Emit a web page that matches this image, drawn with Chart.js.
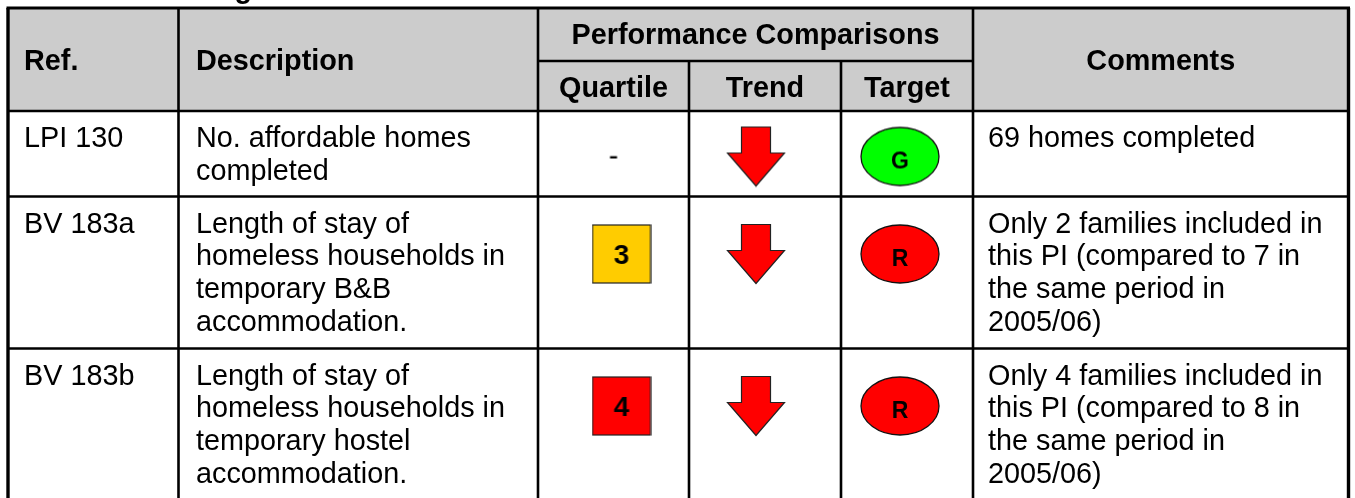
<!DOCTYPE html>
<html>
<head>
<meta charset="utf-8">
<title>Performance Comparisons</title>
<script src="https://cdn.jsdelivr.net/npm/chart.js@4.4.1/dist/chart.umd.min.js"></script>
<style>
  html, body { margin: 0; padding: 0; background: #fff; }
  #wrap { position: relative; width: 1355px; height: 498px; }
</style>
</head>
<body>
<div id="wrap"><canvas id="table"></canvas></div>
<script>
// table content
const title = "Housing";
const headTop = ["Ref.", "Description", "Performance Comparisons", "Comments"];
const headSub = ["Quartile", "Trend", "Target"];
const refs = ["LPI 130", "BV 183a", "BV 183b"];
const descriptions = [
  ["No. affordable homes", "completed"],
  ["Length of stay of", "homeless households in", "temporary B&B", "accommodation."],
  ["Length of stay of", "homeless households in", "temporary hostel", "accommodation."]
];
const quartiles = [null, 3, 4];
const trends = ["down", "down", "down"];
const targets = ["G", "R", "R"];
const comments = [
  ["69 homes completed"],
  ["Only 2 families included in", "this PI (compared to 7 in", "the same period in", "2005/06)"],
  ["Only 4 families included in", "this PI (compared to 8 in", "the same period in", "2005/06)"]
];

// layout (pixels)
const W = 1355, H = 498;
const colEdges = [8, 178.5, 538, 689, 841, 973, 1348.5];
const rowEdges = [8, 111, 196.5, 348.5, 498];
const subLineY = 61;
const textPadTop = 36;
const rowIconY = [156.5, 254, 406];
const iconShift = [8, -9, -7];
const lineH = 32.8;
const FONT = "'Liberation Sans', Arial, Helvetica, sans-serif";
const TXT = 28.8;

const quartileColor = { 1: "#00ff00", 2: "#99cc00", 3: "#ffcc00", 4: "#ff0000" };
const targetColor = { G: "#00ff00", A: "#ffcc00", R: "#ff0000" };

function mkCanvas(w, h) {
  var c = document.createElement("canvas");
  c.width = w; c.height = h;
  return c;
}

function squareIcon(q) {
  var c = mkCanvas(60, 60), g = c.getContext("2d");
  if (q == null) {
    g.fillStyle = "#000";
    g.font = TXT + "px " + FONT;
    g.textAlign = "center";
    g.textBaseline = "middle";
    g.fillText("-", 30, 30);
    return c;
  }
  g.fillStyle = quartileColor[q];
  g.fillRect(1, 1, 58, 58);
  g.strokeStyle = "#222";
  g.lineWidth = 1.2;
  g.strokeRect(1, 1, 58, 58);
  g.fillStyle = "#000";
  g.font = "bold 28px " + FONT;
  g.textAlign = "center";
  g.textBaseline = "alphabetic";
  g.fillText(String(q), 30, 40);
  return c;
}

function arrowIcon(dir) {
  var c = mkCanvas(60, 62), g = c.getContext("2d");
  g.save();
  if (dir == "up") { g.translate(0, 62); g.scale(1, -1); }
  g.beginPath();
  g.moveTo(15.5, 1.5);
  g.lineTo(44.5, 1.5);
  g.lineTo(44.5, 27.5);
  g.lineTo(58.5, 27.5);
  g.lineTo(30, 60.5);
  g.lineTo(1.5, 27.5);
  g.lineTo(15.5, 27.5);
  g.closePath();
  g.fillStyle = "#ff0000";
  g.fill();
  g.strokeStyle = "#222";
  g.lineWidth = 1.2;
  g.stroke();
  g.restore();
  return c;
}

function ellipseIcon(t) {
  var c = mkCanvas(82, 62), g = c.getContext("2d");
  g.beginPath();
  g.ellipse(41, 31, 39, 29, 0, 0, Math.PI * 2);
  g.fillStyle = targetColor[t];
  g.fill();
  g.strokeStyle = "#111";
  g.lineWidth = 1.3;
  g.stroke();
  g.fillStyle = "#000";
  g.font = "bold 23px " + FONT;
  g.textAlign = "center";
  g.textBaseline = "alphabetic";
  g.fillText(t, 41, 43);
  return c;
}

function colMid(i) { return (colEdges[i] + colEdges[i + 1]) / 2; }

const quartilePts = quartiles.map((q, i) => ({ x: colMid(2) + (q == null ? 0 : iconShift[0]), y: rowIconY[i] + (q == null ? 1 : 0) }));
const trendPts = trends.map((t, i) => ({ x: colMid(3) + iconShift[1], y: rowIconY[i] }));
const targetPts = targets.map((t, i) => ({ x: colMid(4) + iconShift[2], y: rowIconY[i] }));

const quartileIcons = quartiles.map(squareIcon);
const trendIcons = trends.map(arrowIcon);
const targetIcons = targets.map(ellipseIcon);

const tablePlugin = {
  id: "tablePlugin",
  beforeDatasetsDraw(chart) {
    var ctx = chart.ctx, sx = chart.scales.x, sy = chart.scales.y;
    var px = v => sx.getPixelForValue(v), py = v => sy.getPixelForValue(v);
    ctx.save();

    // header background
    ctx.fillStyle = "#cccccc";
    ctx.fillRect(px(colEdges[0]), py(rowEdges[0]), px(colEdges[6]) - px(colEdges[0]), py(rowEdges[1]) - py(rowEdges[0]));

    // title, cut off by the top of the picture
    ctx.fillStyle = "#000";
    ctx.font = "bold " + TXT + "px " + FONT;
    ctx.textAlign = "left";
    ctx.textBaseline = "alphabetic";
    ctx.fillText(title, px(137), py(-2));

    // grid
    ctx.strokeStyle = "#000";
    function line(x1, y1, x2, y2, w) {
      ctx.lineWidth = w;
      ctx.beginPath();
      ctx.moveTo(px(x1), py(y1));
      ctx.lineTo(px(x2), py(y2));
      ctx.stroke();
    }
    for (var r = 1; r < rowEdges.length - 1; r++) line(colEdges[0], rowEdges[r], colEdges[6], rowEdges[r], 2.6);
    line(colEdges[2], subLineY, colEdges[5], subLineY, 2.4);
    line(colEdges[1], rowEdges[0], colEdges[1], H, 2.6);
    line(colEdges[2], rowEdges[0], colEdges[2], H, 2.6);
    line(colEdges[3], subLineY, colEdges[3], H, 2.6);
    line(colEdges[4], subLineY, colEdges[4], H, 2.6);
    line(colEdges[5], rowEdges[0], colEdges[5], H, 2.6);
    line(colEdges[0] - 1.5, rowEdges[0], colEdges[6] + 1.5, rowEdges[0], 3);
    line(colEdges[0], rowEdges[0], colEdges[0], H, 3.4);
    line(colEdges[6], rowEdges[0], colEdges[6], H, 3.4);

    // header text
    ctx.fillStyle = "#000";
    ctx.font = "bold " + TXT + "px " + FONT;
    ctx.textBaseline = "alphabetic";
    ctx.textAlign = "left";
    ctx.fillText(headTop[0], px(24), py(70));
    ctx.fillText(headTop[1], px(196), py(70));
    ctx.textAlign = "center";
    ctx.fillText(headTop[2], px((colEdges[2] + colEdges[5]) / 2), py(44));
    ctx.fillText(headTop[3], px(colMid(5)), py(70));
    headSub.forEach((h, i) => ctx.fillText(h, px(colMid(2 + i)), py(97)));

    // body text
    ctx.font = TXT + "px " + FONT;
    ctx.textAlign = "left";
    refs.forEach((t, i) => {
      var base = rowEdges[i + 1] + textPadTop;
      ctx.fillText(t, px(24), py(base));
      descriptions[i].forEach((l, k) => ctx.fillText(l, px(196), py(base + k * lineH)));
      comments[i].forEach((l, k) => ctx.fillText(l, px(988), py(base + k * lineH)));
    });
    ctx.restore();
  }
};

new Chart(document.getElementById("table"), {
  type: "scatter",
  data: {
    datasets: [
      { label: "Quartile", data: quartilePts, pointStyle: c => quartileIcons[c.dataIndex], pointRadius: 5 },
      { label: "Trend", data: trendPts, pointStyle: c => trendIcons[c.dataIndex], pointRadius: 5 },
      { label: "Target", data: targetPts, pointStyle: c => targetIcons[c.dataIndex], pointRadius: 5 }
    ]
  },
  options: {
    responsive: true,
    maintainAspectRatio: false,
    animation: false,
    events: [],
    layout: { padding: 0, autoPadding: false },
    scales: {
      x: { type: "linear", min: 0, max: W, display: false },
      y: { type: "linear", min: 0, max: H, reverse: true, display: false }
    },
    plugins: { legend: { display: false }, tooltip: { enabled: false } }
  },
  plugins: [tablePlugin]
});
</script>
</body>
</html>
